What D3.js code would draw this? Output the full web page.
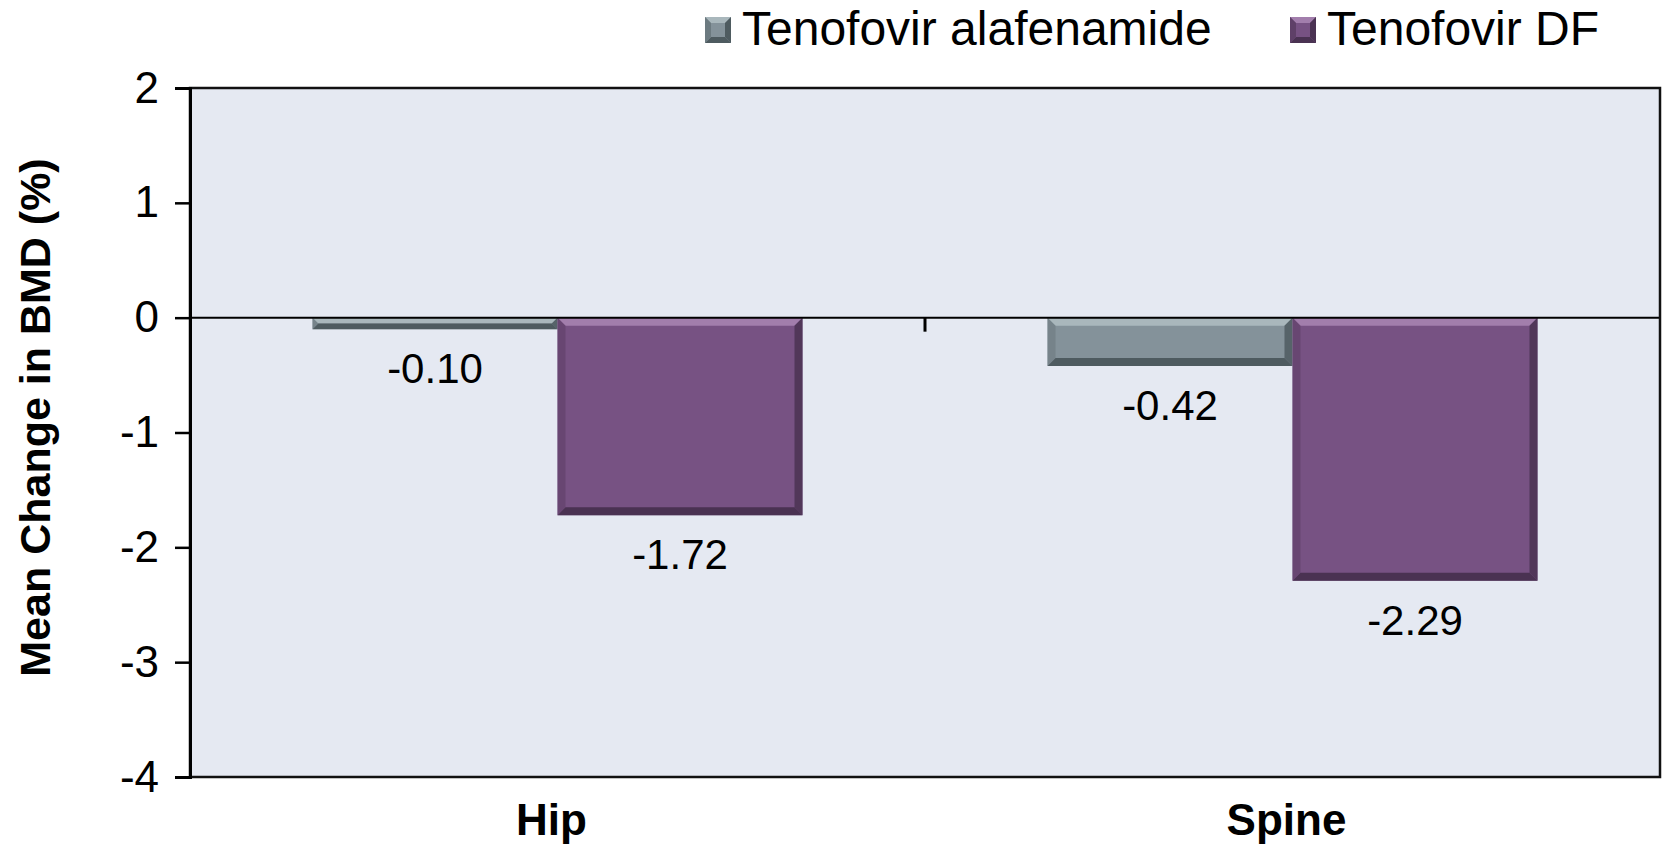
<!DOCTYPE html>
<html>
<head>
<meta charset="utf-8">
<script src="https://cdn.jsdelivr.net/npm/d3@7"></script>
<style>
  html, body { margin: 0; padding: 0; background: #ffffff; }
  svg { display: block; font-family: "Liberation Sans", Arial, sans-serif; }
</style>
</head>
<body>
<svg id="chart" width="1663" height="845"></svg>
<script>
// ---- data ----
const categories = ["Hip", "Spine"];
const seriesNames = ["Tenofovir alafenamide", "Tenofovir DF"];
const tafValues = [-0.10, -0.42];
const tdfValues = [-1.72, -2.29];
const valueLabels = [["-0.10", "-0.42"], ["-1.72", "-2.29"]];
const yTicks = [2, 1, 0, -1, -2, -3, -4];
const yTitle = "Mean Change in BMD (%)";

// ---- styles ----
const colors = [
  { main: "#84929a", light: "#a9b7bc", dark: "#4e5b60", side: "#6c7a80" },
  { main: "#775283", light: "#a27eac", dark: "#4a3252", side: "#5f4068" }
];

const svg = d3.select("#chart");
const plot = { left: 190, top: 88, right: 1660, bottom: 777 };

const y = d3.scaleLinear().domain([-4, 2]).range([plot.bottom, plot.top]);
const x0 = d3.scaleBand().domain(categories).range([plot.left, plot.right]).paddingInner(0).paddingOuter(0);
const x1 = d3.scaleBand().domain(seriesNames).range([0, x0.bandwidth()]).paddingInner(0).paddingOuter(0.5);

const seriesValues = [tafValues, tdfValues];
const bars = [];
seriesNames.forEach((s, si) => {
  categories.forEach((c, ci) => {
    bars.push({ series: s, si, cat: c, ci, value: seriesValues[si][ci], label: valueLabels[si][ci] });
  });
});

// plot background
svg.append("rect")
  .attr("x", plot.left).attr("y", plot.top)
  .attr("width", plot.right - plot.left).attr("height", plot.bottom - plot.top)
  .attr("fill", "#e5e9f2");

// bars with bevel
const bevel = 8;
const gBars = svg.append("g");
bars.forEach(d => {
  const bx = x0(d.cat) + x1(d.series);
  const bw = x1.bandwidth();
  const yA = y(0), yB = y(d.value);
  const top = Math.min(yA, yB), bot = Math.max(yA, yB);
  const h = bot - top;
  const c = colors[d.si];
  const b = Math.min(bevel, h / 2);
  const g = gBars.append("g");
  g.append("rect").attr("x", bx).attr("y", top).attr("width", bw).attr("height", h).attr("fill", c.main);
  g.append("path").attr("d", `M${bx},${top}L${bx + bw},${top}L${bx + bw - b},${top + b}L${bx + b},${top + b}Z`).attr("fill", c.light);
  g.append("path").attr("d", `M${bx},${bot}L${bx + bw},${bot}L${bx + bw - b},${bot - b}L${bx + b},${bot - b}Z`).attr("fill", c.dark);
  g.append("path").attr("d", `M${bx},${top}L${bx + b},${top + b}L${bx + b},${bot - b}L${bx},${bot}Z`).attr("fill", c.side).attr("opacity", 0.6);
  g.append("path").attr("d", `M${bx + bw},${top}L${bx + bw - b},${top + b}L${bx + bw - b},${bot - b}L${bx + bw},${bot}Z`).attr("fill", c.dark).attr("opacity", 0.85);
});

// zero axis line with category ticks
svg.append("line")
  .attr("x1", plot.left).attr("x2", plot.right)
  .attr("y1", y(0)).attr("y2", y(0))
  .attr("stroke", "#000").attr("stroke-width", 2);
const boundaries = categories.slice(1).map(c => x0(c));
svg.selectAll(".cattick").data(boundaries).enter().append("line")
  .attr("x1", d => d).attr("x2", d => d)
  .attr("y1", y(0)).attr("y2", y(0) + 14)
  .attr("stroke", "#000").attr("stroke-width", 3);

// plot border
svg.append("rect")
  .attr("x", plot.left).attr("y", plot.top)
  .attr("width", plot.right - plot.left).attr("height", plot.bottom - plot.top)
  .attr("fill", "none").attr("stroke", "#111").attr("stroke-width", 2.5);

// y axis
const yAxis = d3.axisLeft(y).tickValues(yTicks).tickSize(15).tickPadding(16).tickFormat(d3.format("d"));
const gy = svg.append("g").attr("transform", `translate(${plot.left},0)`).call(yAxis);
gy.select(".domain").attr("stroke", "#000").attr("stroke-width", 3);
gy.selectAll(".tick line").attr("stroke", "#000").attr("stroke-width", 2.5);
gy.selectAll(".tick text")
  .attr("font-size", 44).attr("fill", "#000")
  .attr("font-family", "'Liberation Sans', Arial, sans-serif")
  .text(d => (d < 0 ? "-" + Math.abs(d) : String(d)));

// y title
svg.append("text")
  .attr("transform", `translate(50,${(plot.top + plot.bottom) / 2 - 15}) rotate(-90)`)
  .attr("text-anchor", "middle")
  .attr("font-size", 43).attr("font-weight", "bold").attr("fill", "#000")
  .text(yTitle);

// category labels
svg.selectAll(".catlabel").data(categories).enter().append("text")
  .attr("x", d => x0(d) + x0.bandwidth() / 2 - 6)
  .attr("y", 835)
  .attr("text-anchor", "middle")
  .attr("font-size", 44).attr("font-weight", "bold").attr("fill", "#000")
  .text(d => d);

// value labels
svg.selectAll(".vlabel").data(bars).enter().append("text")
  .attr("x", d => x0(d.cat) + x1(d.series) + x1.bandwidth() / 2)
  .attr("y", d => y(d.value) + 39 + 15)
  .attr("text-anchor", "middle")
  .attr("font-size", 42).attr("fill", "#000")
  .text(d => d.label);

// legend
const legendX = [705, 1290];
const legend = svg.selectAll(".legend").data(seriesNames).enter().append("g")
  .attr("transform", (d, i) => `translate(${legendX[i]},0)`);
legend.each(function (d, i) {
  const g = d3.select(this);
  const c = colors[i];
  const s = 26, t = 17, b = 6;
  g.append("rect").attr("x", 0).attr("y", t).attr("width", s).attr("height", s).attr("fill", c.main);
  g.append("path").attr("d", `M0,${t}L${s},${t}L${s - b},${t + b}L${b},${t + b}Z`).attr("fill", c.light);
  g.append("path").attr("d", `M0,${t + s}L${s},${t + s}L${s - b},${t + s - b}L${b},${t + s - b}Z`).attr("fill", c.dark);
  g.append("path").attr("d", `M0,${t}L${b},${t + b}L${b},${t + s - b}L0,${t + s}Z`).attr("fill", c.side);
  g.append("path").attr("d", `M${s},${t}L${s - b},${t + b}L${s - b},${t + s - b}L${s},${t + s}Z`).attr("fill", c.dark);
  g.append("text").attr("x", 37).attr("y", 45)
    .attr("font-size", 48).attr("fill", "#000")
    .text(d);
});
</script>
</body>
</html>
